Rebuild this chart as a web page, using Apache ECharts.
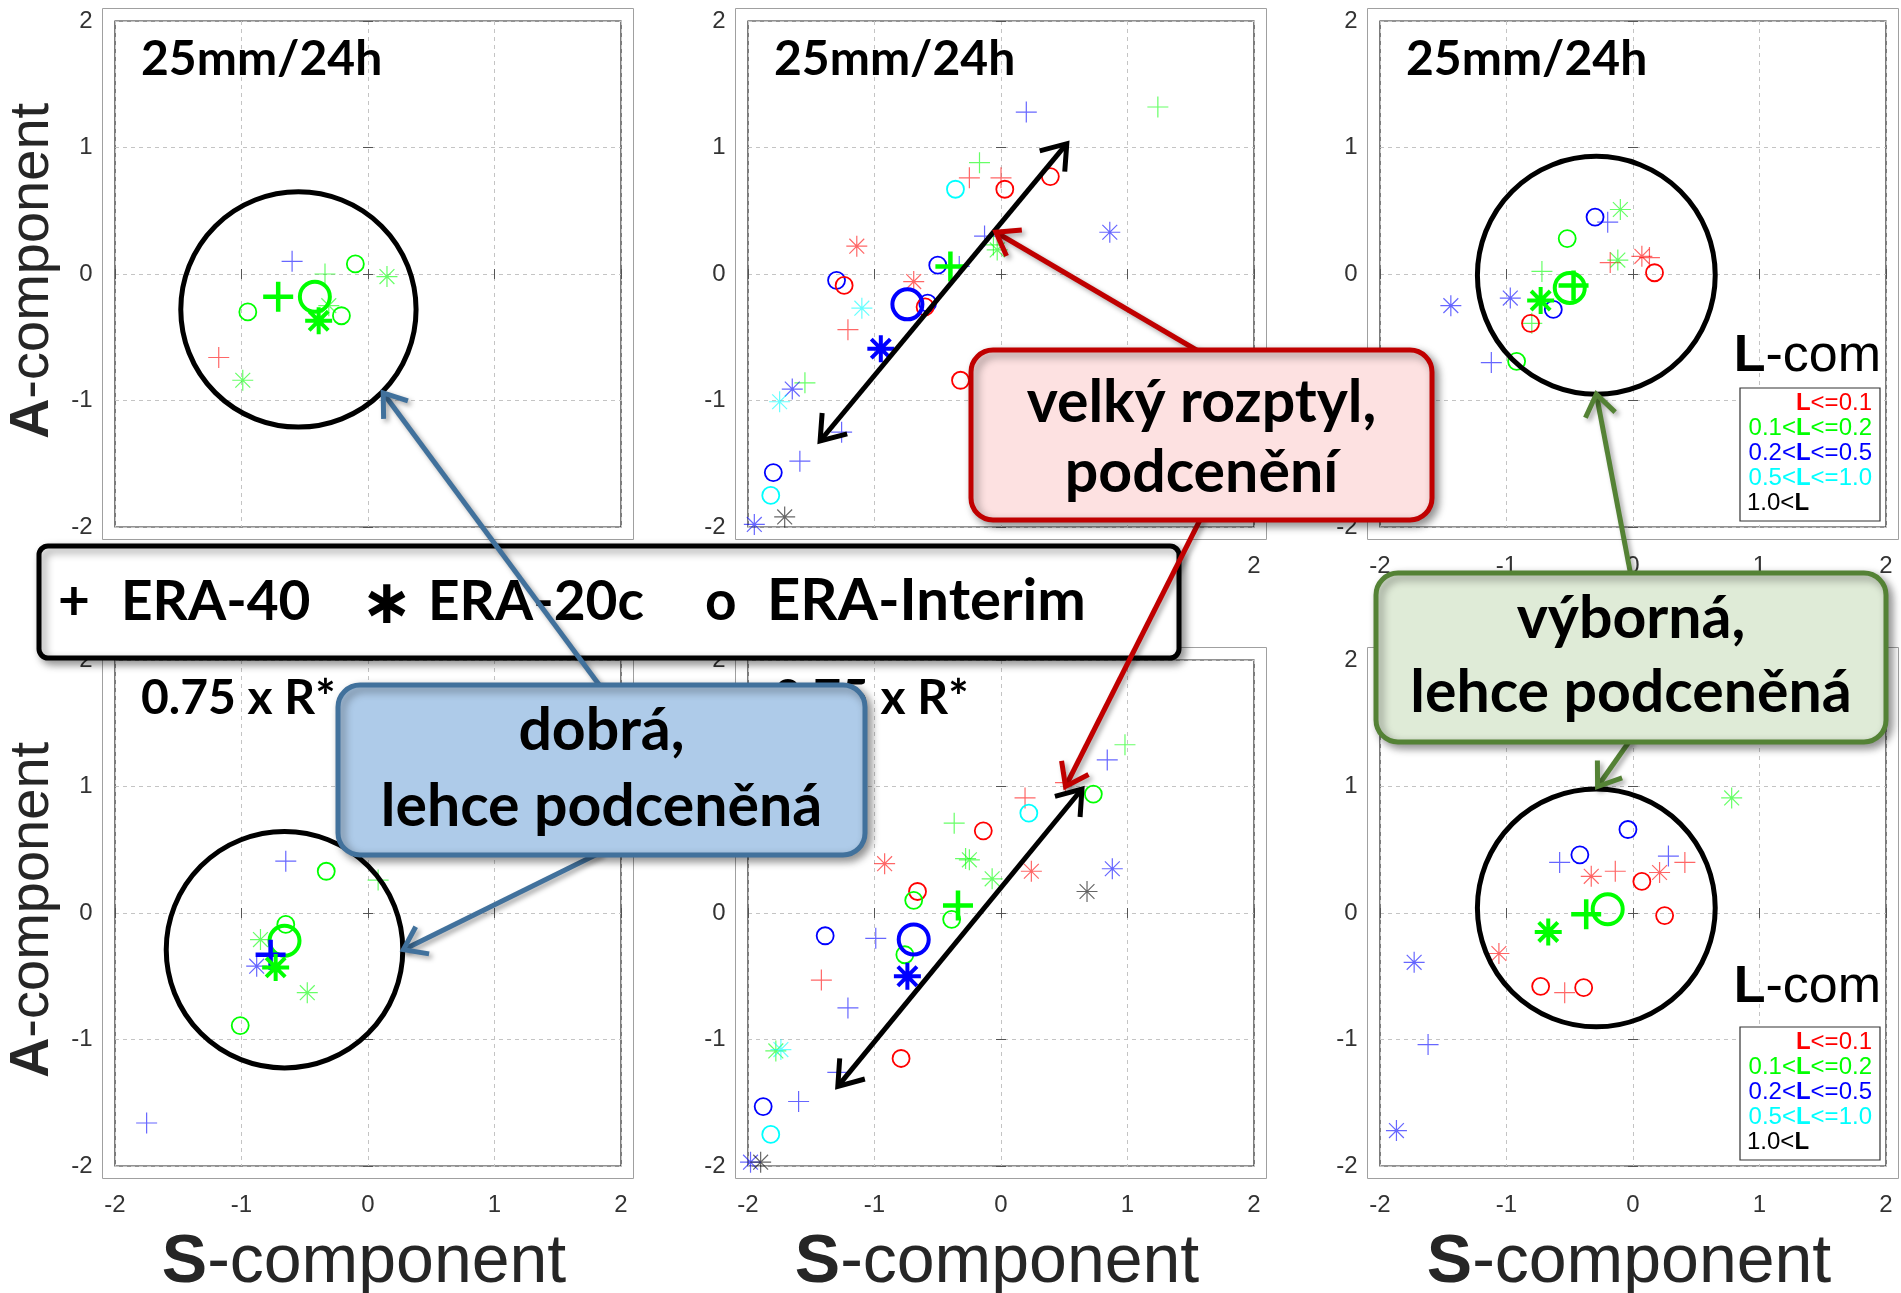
<!DOCTYPE html>
<html>
<head>
<meta charset="utf-8">
<title>S/A components</title>
<script src="https://cdn.jsdelivr.net/npm/echarts@6.0.0/dist/echarts.min.js"></script>
<style>
html,body{margin:0;padding:0;background:#ffffff;}
#chart{width:1901px;height:1293px;}
</style>
</head>
<body>
<div id="chart"></div>
<script>
// ------------------------- DATA -------------------------
const TICKS = [-2, -1, 0, 1, 2];
const L_COLORS = {r:'#ff0000', g:'#00ff00', b:'#0000ff', c:'#00ffff', k:'#000000'};
const PANEL_TITLES = ['25mm/24h', '25mm/24h', '25mm/24h', '0.75 x R*', '0.75 x R*', '0.75 x R*'];
const X_TITLE = ['S', '-component'];
const Y_TITLE = ['A', '-component'];
const LEGEND_TITLE = ['L', '-com'];
const LEGEND_LABELS = [['', '<=0.1', 'r'], ['0.1<', '<=0.2', 'g'], ['0.2<', '<=0.5', 'b'], ['0.5<', '<=1.0', 'c'], ['1.0<', '', 'k']];
const ERA_LABELS = ['+', 'ERA-40', '\u2217', 'ERA-20c', 'o', 'ERA-Interim'];
const CALLOUT_BLUE = ['dobrá,', 'lehce podceněná'];
const CALLOUT_RED = ['velký rozptyl,', 'podcenění'];
const CALLOUT_GREEN = ['výborná,', 'lehce podceněná'];

// panel 1 (top-left)  [S, A, L-class]
const p1Plus = [[-0.60, 0.10, 'b'], [-0.34, 0.00, 'g'], [-1.18, -0.66, 'r']];
const p1Star = [[0.15, -0.02, 'g'], [-0.31, -0.25, 'g'], [-0.99, -0.84, 'g']];
const p1Circ = [[-0.10, 0.08, 'g'], [-0.95, -0.30, 'g'], [-0.21, -0.33, 'g']];
const p1Mean = [['plus', -0.71, -0.18, 'g'], ['circ', -0.42, -0.18, 'g'], ['star', -0.39, -0.37, 'g']];
const p1Ring = [-0.55, -0.28, 0.93];

// panel 2 (top-middle)
const p2Plus = [[0.20, 1.28, 'b'], [1.24, 1.32, 'g'], [-0.17, 0.88, 'g'], [-0.25, 0.76, 'r'], [0.00, 0.76, 'r'],
  [-0.13, 0.30, 'b'], [-0.06, 0.23, 'g'], [-0.33, 0.06, 'b'], [-1.21, -0.44, 'r'], [-1.55, -0.86, 'g'],
  [-1.26, -1.25, 'b'], [-1.59, -1.48, 'b']];
const p2Star = [[0.86, 0.33, 'b'], [-0.03, 0.19, 'g'], [-1.14, 0.22, 'r'], [-0.69, -0.06, 'r'], [-1.10, -0.27, 'c'],
  [-1.65, -0.91, 'b'], [-1.75, -1.01, 'c'], [-1.71, -1.92, 'k'], [-1.95, -1.98, 'b']];
const p2Circ = [[-0.36, 0.67, 'c'], [0.03, 0.67, 'r'], [0.39, 0.77, 'r'], [-0.50, 0.07, 'b'], [-1.30, -0.05, 'b'],
  [-1.24, -0.09, 'r'], [-0.58, -0.23, 'b'], [-0.60, -0.26, 'r'], [-0.32, -0.84, 'r'], [-1.80, -1.57, 'b'], [-1.82, -1.75, 'c']];
const p2Mean = [['plus', -0.40, 0.06, 'g'], ['circ', -0.74, -0.24, 'b'], ['star', -0.95, -0.59, 'b']];
const p2Arrow = [-1.43, -1.32, 0.52, 1.03];

// panel 3 (top-right)
const p3Plus = [[-0.20, 0.41, 'b'], [-0.18, 0.09, 'r'], [0.13, 0.13, 'r'], [-0.72, 0.02, 'g'], [-0.80, -0.39, 'g'], [-1.12, -0.70, 'b']];
const p3Star = [[-0.10, 0.51, 'g'], [-0.12, 0.11, 'g'], [0.07, 0.14, 'r'], [-0.97, -0.19, 'b'], [-1.44, -0.25, 'b']];
const p3Circ = [[-0.30, 0.45, 'b'], [-0.52, 0.28, 'g'], [0.17, 0.01, 'r'], [-0.63, -0.28, 'b'], [-0.81, -0.39, 'r'], [-0.92, -0.69, 'g']];
const p3Mean = [['plus', -0.47, -0.09, 'g'], ['circ', -0.50, -0.11, 'g'], ['star', -0.73, -0.21, 'g']];
const p3Ring = [-0.29, -0.01, 0.94];

// panel 4 (bottom-left)
const p4Plus = [[-0.65, 0.41, 'b'], [0.08, 0.26, 'g'], [-1.75, -1.66, 'b']];
const p4Star = [[-0.85, -0.21, 'g'], [-0.88, -0.42, 'b'], [-0.48, -0.63, 'g']];
const p4Circ = [[-0.33, 0.33, 'g'], [-0.65, -0.09, 'g'], [-1.01, -0.89, 'g']];
const p4Mean = [['circ', -0.66, -0.22, 'g'], ['plus', -0.77, -0.33, 'b'], ['star', -0.73, -0.43, 'g']];
const p4Ring = [-0.66, -0.29, 0.935];

// panel 5 (bottom-middle)
const p5Plus = [[0.98, 1.33, 'g'], [0.84, 1.21, 'b'], [0.51, 1.03, 'r'], [0.19, 0.91, 'r'], [-0.37, 0.71, 'g'],
  [-0.28, 0.43, 'g'], [-0.99, -0.20, 'b'], [-1.42, -0.53, 'r'], [-1.21, -0.75, 'b'], [-1.29, -1.26, 'b'], [-1.60, -1.49, 'b']];
const p5Star = [[-0.25, 0.42, 'g'], [-0.92, 0.39, 'r'], [-0.07, 0.27, 'g'], [0.24, 0.33, 'r'], [0.88, 0.35, 'b'],
  [0.68, 0.17, 'k'], [-1.78, -1.09, 'g'], [-1.74, -1.08, 'c'], [-1.98, -1.97, 'b'], [-1.90, -1.97, 'k']];
const p5Circ = [[0.73, 0.94, 'g'], [0.22, 0.79, 'c'], [-0.14, 0.65, 'r'], [-0.66, 0.17, 'r'], [-0.69, 0.10, 'g'],
  [-0.39, -0.05, 'g'], [-1.39, -0.18, 'b'], [-0.76, -0.33, 'g'], [-0.79, -1.15, 'r'], [-1.88, -1.53, 'b'], [-1.82, -1.75, 'c']];
const p5Mean = [['plus', -0.34, 0.06, 'g'], ['circ', -0.69, -0.21, 'b'], ['star', -0.74, -0.50, 'b']];
const p5Arrow = [-1.29, -1.37, 0.64, 0.98];

// panel 6 (bottom-right)
const p6Plus = [[-0.58, 0.40, 'b'], [0.28, 0.45, 'b'], [0.41, 0.40, 'r'], [-0.14, 0.33, 'r'], [-0.54, -0.63, 'r'], [-1.62, -1.04, 'b']];
const p6Star = [[0.78, 0.91, 'g'], [0.21, 0.32, 'r'], [-0.33, 0.29, 'r'], [-1.06, -0.32, 'r'], [-1.73, -0.39, 'b'], [-1.87, -1.72, 'b']];
const p6Circ = [[-0.04, 0.66, 'b'], [-0.42, 0.46, 'b'], [0.07, 0.25, 'r'], [0.25, -0.02, 'r'], [-0.73, -0.58, 'r'], [-0.39, -0.59, 'r']];
const p6Mean = [['circ', -0.20, 0.03, 'g'], ['plus', -0.37, -0.01, 'g'], ['star', -0.67, -0.15, 'g']];
const p6Ring = [-0.29, 0.04, 0.94];

// callout arrow targets (data coordinates inside a panel)
const BLUE_TARGETS = [[0, 0.12, -0.94], [3, 0.28, -0.29]];
const RED_TARGETS = [[1, -0.04, 0.33], [4, 0.51, 1.00]];
const GREEN_TARGETS = [[2, -0.29, -0.95], [5, -0.28, 1.00]];

// ------------------------- LAYOUT -------------------------
const COL_LEFT = [115, 748, 1380];
const ROW_TOP = [21, 660];
const SIZE = 506;
const PAD = 12.5;
const SANS = '"Liberation Sans", Arial, sans-serif';
const LATO = 'Lato, "Open Sans", sans-serif';

const PANELS = [
  {plus: p1Plus, star: p1Star, circ: p1Circ, mean: p1Mean, ring: p1Ring, arrow: null},
  {plus: p2Plus, star: p2Star, circ: p2Circ, mean: p2Mean, ring: null, arrow: p2Arrow},
  {plus: p3Plus, star: p3Star, circ: p3Circ, mean: p3Mean, ring: p3Ring, arrow: null},
  {plus: p4Plus, star: p4Star, circ: p4Circ, mean: p4Mean, ring: p4Ring, arrow: null},
  {plus: p5Plus, star: p5Star, circ: p5Circ, mean: p5Mean, ring: null, arrow: p5Arrow},
  {plus: p6Plus, star: p6Star, circ: p6Circ, mean: p6Mean, ring: p6Ring, arrow: null}
];

const SYMBOLS = {
  plus: 'path://M0,-10L0,10M-10,0L10,0',
  star: 'path://M0,-10L0,10M-10,0L10,0M-7.07,-7.07L7.07,7.07M-7.07,7.07L7.07,-7.07',
  circ: 'circle'
};
const STYLE_SMALL = {plus: [21, 1.2, 0.6], star: [21, 1.2, 0.6], circ: [17, 1.8, 1]};
const STYLE_MEAN = {plus: [30, 4.5], star: [27, 4], circ: [30, 4]};

const chart = echarts.init(document.getElementById('chart'), null, {renderer: 'canvas', width: 1901, height: 1293});

const grids = [], xAxes = [], yAxes = [], series = [];
const tickStyle = {show: true, inside: true, length: 5, lineStyle: {color: '#555', width: 1}};
function labelStyle(margin) {
  return {show: true, margin: margin, color: '#333', fontSize: 24, fontFamily: SANS, showMinLabel: true, showMaxLabel: true,
    textStyle: {fontSize: 24}};
}
const splitStyle = {show: true, lineStyle: {color: '#c4c4c4', width: 1, type: [4, 4]}};

function chev(tip, from, len, ang) {
  const dx = from[0] - tip[0], dy = from[1] - tip[1];
  const d = Math.hypot(dx, dy), ux = dx / d, uy = dy / d;
  const rot = (a) => [tip[0] + len * (ux * Math.cos(a) - uy * Math.sin(a)), tip[1] + len * (ux * Math.sin(a) + uy * Math.cos(a))];
  return [rot(ang), tip, rot(-ang)];
}

function scatter(i, type, pts, mean) {
  const st = mean ? STYLE_MEAN[type] : STYLE_SMALL[type];
  return {
    type: 'scatter', xAxisIndex: 2 * i, yAxisIndex: 2 * i, symbol: SYMBOLS[type], symbolSize: st[0],
    z: mean ? 4 : 3, silent: true,
    data: pts.map(p => ({value: [p[0], p[1]], itemStyle: {color: 'rgba(0,0,0,0)', borderColor: L_COLORS[p[2]], borderWidth: st[1], opacity: mean ? 1 : st[2]}}))
  };
}

PANELS.forEach((P, i) => {
  const col = i % 3, row = Math.floor(i / 3);
  grids.push({left: COL_LEFT[col], top: ROW_TOP[row], width: SIZE, height: SIZE, show: true,
    borderColor: '#262626', borderWidth: 1.2, backgroundColor: 'rgba(0,0,0,0)', containLabel: false, outerBoundsMode: 'none'});
  xAxes.push({gridIndex: i, type: 'value', min: -2, max: 2, interval: 1, position: 'bottom', offset: PAD,
    axisLine: {show: false}, axisTick: tickStyle, axisLabel: labelStyle(15), splitLine: splitStyle});
  xAxes.push({gridIndex: i, type: 'value', min: -2, max: 2, interval: 1, position: 'top', offset: PAD,
    axisLine: {show: false}, axisTick: tickStyle, axisLabel: {show: false}, splitLine: {show: false}});
  yAxes.push({gridIndex: i, type: 'value', min: -2, max: 2, interval: 1, position: 'left', offset: PAD,
    axisLine: {show: false}, axisTick: tickStyle, axisLabel: labelStyle(10), splitLine: splitStyle});
  yAxes.push({gridIndex: i, type: 'value', min: -2, max: 2, interval: 1, position: 'right', offset: PAD,
    axisLine: {show: false}, axisTick: tickStyle, axisLabel: {show: false}, splitLine: {show: false}});

  series.push(scatter(i, 'plus', P.plus, false));
  series.push(scatter(i, 'star', P.star, false));
  series.push(scatter(i, 'circ', P.circ, false));
  P.mean.forEach(m => series.push(scatter(i, m[0], [[m[1], m[2], m[3]]], true)));

  if (P.ring) {
    series.push({type: 'custom', xAxisIndex: 2 * i, yAxisIndex: 2 * i, z: 5, silent: true,
      data: [P.ring], encode: {x: 0, y: 1},
      renderItem: (params, api) => {
        const c = api.coord([api.value(0), api.value(1)]);
        const s = api.size([api.value(2), api.value(2)]);
        return {type: 'circle', shape: {cx: c[0], cy: c[1], r: (s[0] + s[1]) / 2},
          style: {fill: 'none', stroke: '#000', lineWidth: 5}};
      }});
  }
  if (P.arrow) {
    series.push({type: 'custom', xAxisIndex: 2 * i, yAxisIndex: 2 * i, z: 6, silent: true,
      data: [P.arrow], encode: {x: [0, 2], y: [1, 3]},
      renderItem: (params, api) => {
        const a = api.coord([api.value(0), api.value(1)]);
        const b = api.coord([api.value(2), api.value(3)]);
        const st = {stroke: '#000', lineWidth: 5, fill: 'none', lineJoin: 'miter'};
        return {type: 'group', children: [
          {type: 'line', shape: {x1: a[0], y1: a[1], x2: b[0], y2: b[1]}, style: st},
          {type: 'polyline', shape: {points: chev(b, a, 28, 0.62)}, style: st},
          {type: 'polyline', shape: {points: chev(a, b, 28, 0.62)}, style: st}
        ]};
      }});
  }
});

chart.setOption({
  animation: false,
  backgroundColor: '#ffffff',
  grid: grids, xAxis: xAxes, yAxis: yAxes, series: series
});

// ------------------------- ANNOTATIONS -------------------------
const graphics = [];
const MID_LATO = 0.387, MID_SANS = 0.347;

function txt(text, x, y, font, opts) {
  opts = opts || {};
  graphics.push({type: 'text', x: x, y: y, z: opts.z || 10, silent: true, rotation: opts.rotation || 0,
    style: Object.assign({text: text, font: font, fill: opts.fill || '#000', align: opts.align || 'left', verticalAlign: 'middle'}, opts.style || {})});
}

PANELS.forEach((P, i) => {
  const col = i % 3, row = Math.floor(i / 3);
  const L = COL_LEFT[col], T = ROW_TOP[row];
  // outer light frame
  graphics.push({type: 'rect', z: 1, silent: true, shape: {x: L - PAD, y: T - PAD, width: SIZE + 2 * PAD, height: SIZE + 2 * PAD},
    style: {fill: 'none', stroke: '#a0a0a0', lineWidth: 1}});
  // panel title
  txt(PANEL_TITLES[i], L + 26, T + 57 - MID_LATO * 48, 'bold 48px ' + LATO, {z: 8});
  // axis titles
  if (row === 1) {
    txt('{b|' + X_TITLE[0] + '}{n|' + X_TITLE[1] + '}', L + SIZE / 2 - 4, 1287 - MID_SANS * 68, '68px ' + SANS, {align: 'center', z: 8,
      style: {rich: {b: {fontSize: 68, fontWeight: 'bold', fontFamily: SANS, fill: '#262626'}, n: {fontSize: 68, fontFamily: SANS, fill: '#262626'}}}});
  }
  if (col === 0) {
    txt('{b|' + Y_TITLE[0] + '}{n|' + Y_TITLE[1] + '}', 52 - MID_SANS * 56, T + 250, '56px ' + SANS, {align: 'center', rotation: Math.PI / 2, z: 8,
      style: {rich: {b: {fontSize: 56, fontWeight: 'bold', fontFamily: SANS, fill: '#262626'}, n: {fontSize: 56, fontFamily: SANS, fill: '#262626'}}}});
  }
  // L-com legend
  if (col === 2) {
    const base = row === 0 ? T + 354 : T + 346;
    txt('{b|' + LEGEND_TITLE[0] + '}{n|' + LEGEND_TITLE[1] + '}', L + 501, base - MID_SANS * 52, '52px ' + SANS, {align: 'right', z: 12,
      style: {rich: {b: {fontSize: 52, fontWeight: 'bold', fontFamily: SANS, fill: '#000'}, n: {fontSize: 52, fontFamily: SANS, fill: '#000'}}}});
    const bx = L + 360, by = T + 367;
    graphics.push({type: 'rect', z: 11, silent: true, shape: {x: bx, y: by, width: 140, height: 133},
      style: {fill: '#ffffff', stroke: '#333', lineWidth: 1.2}});
    LEGEND_LABELS.forEach((lab, k) => {
      const c = L_COLORS[lab[2]];
      let s = '';
      if (lab[0]) s += '{n|' + lab[0] + '}';
      s += '{b|L}';
      if (lab[1]) s += '{n|' + lab[1] + '}';
      const left = k === 4;
      txt(s, left ? bx + 7 : bx + 132, by + 15 + 25 * k, '24px ' + SANS, {align: left ? 'left' : 'right', z: 12,
        style: {rich: {b: {fontSize: 24, fontWeight: 'bold', fontFamily: SANS, fill: c}, n: {fontSize: 24, fontFamily: SANS, fill: c}}}});
    });
  }
});

// ERA legend box
const SHADOW = {shadowBlur: 8, shadowOffsetX: 4, shadowOffsetY: 4, shadowColor: 'rgba(0,0,0,0.4)'};
graphics.push({type: 'rect', z: 50, silent: true, shape: {x: 39, y: 546, width: 1140, height: 112, r: 9},
  style: Object.assign({fill: '#ffffff', stroke: '#000', lineWidth: 5}, SHADOW)});
const ERA_X = [58, 121, 387, 428, 705, 767];
const ERA_FS = [55, 55, 0, 55, 55, 58];
ERA_LABELS.forEach((t, k) => {
  if (k === 2) {
    txt(t, ERA_X[k], 607, 'bold 62px "DejaVu Sans", sans-serif', {align: 'center', z: 51});
  } else {
    txt(t, ERA_X[k], 624 - MID_LATO * ERA_FS[k], 'bold ' + ERA_FS[k] + 'px ' + LATO, {z: 51});
  }
});

// callouts
const CALLOUTS = [
  {lines: CALLOUT_BLUE, box: [338, 685, 527, 170], fill: '#aecbe9', stroke: '#41719c', base: [754, 830], targets: BLUE_TARGETS},
  {lines: CALLOUT_RED, box: [971, 350, 461, 170], fill: '#fde1e1', stroke: '#c00000', base: [426, 496], targets: RED_TARGETS},
  {lines: CALLOUT_GREEN, box: [1376, 573, 510, 169], fill: '#dfebd7', stroke: '#548235', base: [642, 716], targets: GREEN_TARGETS}
];
CALLOUTS.forEach(C => {
  const [bx, by, bw, bh] = C.box;
  C.targets.forEach((tg, k) => {
    const tip = chart.convertToPixel({gridIndex: tg[0]}, [tg[1], tg[2]]);
    const start = [bx + bw / 2, k === 0 ? by + 3 : by + bh - 3];
    const st = Object.assign({stroke: C.stroke, lineWidth: 5, fill: 'none', lineJoin: 'miter'}, {shadowBlur: 5, shadowOffsetX: 3, shadowOffsetY: 3, shadowColor: 'rgba(0,0,0,0.35)'});
    graphics.push({type: 'line', z: 60, silent: true, shape: {x1: start[0], y1: start[1], x2: tip[0], y2: tip[1]}, style: st});
    graphics.push({type: 'polyline', z: 60, silent: true, shape: {points: chev(tip, start, 26, 0.62)}, style: st});
  });
  graphics.push({type: 'rect', z: 70, silent: true, shape: {x: bx, y: by, width: bw, height: bh, r: 22},
    style: Object.assign({fill: C.fill, stroke: C.stroke, lineWidth: 5}, SHADOW)});
  C.lines.forEach((line, k) => {
    txt(line, bx + bw / 2, C.base[k] - MID_LATO * 59, 'bold 59px ' + LATO, {align: 'center', z: 71});
  });
});

chart.setOption({graphic: {elements: graphics}});
</script>
</body>
</html>
